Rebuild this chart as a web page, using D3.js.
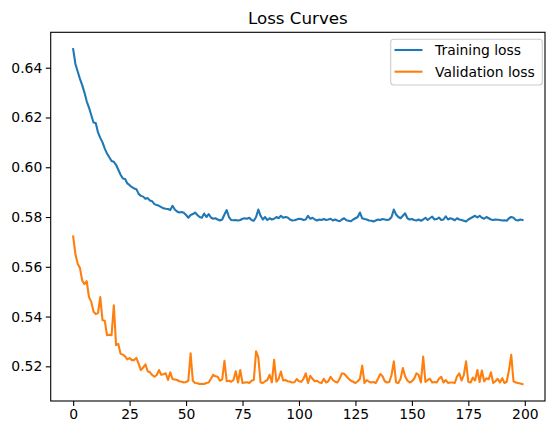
<!DOCTYPE html>
<html><head><meta charset="utf-8">
<script src="https://cdn.jsdelivr.net/npm/d3@7"></script>
<style>body{margin:0;background:#fff}svg{display:block}text{font-family:"DejaVu Sans",sans-serif}</style>
</head><body><svg id="c" width="556" height="435"></svg>
<script>
const title = "Loss Curves";
const seriesNames = ["Training loss", "Validation loss"];
const xTicks = [0, 25, 50, 75, 100, 125, 150, 175, 200];
const yTicks = [0.52, 0.54, 0.56, 0.58, 0.60, 0.62, 0.64];
const trainLoss = [
0.6475,0.6415,0.6385,0.6355,0.6330,0.6300,0.6265,0.6240,0.6210,0.6180,
0.6178,0.6140,0.6118,0.6100,0.6075,0.6055,0.6040,0.6025,0.6022,0.6010,
0.5990,0.5970,0.5955,0.5953,0.5935,0.5928,0.5920,0.5915,0.5912,0.5893,
0.5885,0.5882,0.5873,0.5876,0.5866,0.5863,0.5852,0.5848,0.5845,0.5840,
0.5835,0.5833,0.5832,0.5828,0.5845,0.5830,0.5822,0.5818,0.5820,0.5817,
0.5808,0.5797,0.5808,0.5812,0.5818,0.5808,0.5800,0.5797,0.5814,0.5800,
0.5812,0.5798,0.5793,0.5795,0.5790,0.5786,0.5790,0.5810,0.5828,0.5800,
0.5788,0.5787,0.5788,0.5786,0.5788,0.5793,0.5795,0.5793,0.5797,0.5788,
0.5785,0.5800,0.5830,0.5805,0.5790,0.5800,0.5788,0.5795,0.5790,0.5793,
0.5800,0.5795,0.5805,0.5797,0.5800,0.5798,0.5790,0.5786,0.5787,0.5790,
0.5793,0.5792,0.5788,0.5790,0.5805,0.5793,0.5797,0.5790,0.5786,0.5790,
0.5788,0.5792,0.5788,0.5790,0.5793,0.5786,0.5790,0.5786,0.5783,0.5790,
0.5795,0.5787,0.5785,0.5783,0.5790,0.5795,0.5800,0.5818,0.5795,0.5792,
0.5790,0.5786,0.5785,0.5782,0.5786,0.5790,0.5788,0.5792,0.5790,0.5788,
0.5790,0.5800,0.5830,0.5810,0.5800,0.5795,0.5805,0.5815,0.5795,0.5790,
0.5792,0.5788,0.5786,0.5790,0.5785,0.5790,0.5797,0.5788,0.5795,0.5802,
0.5790,0.5792,0.5798,0.5788,0.5790,0.5803,0.5790,0.5795,0.5792,0.5787,
0.5795,0.5790,0.5788,0.5785,0.5782,0.5790,0.5795,0.5800,0.5805,0.5798,
0.5805,0.5797,0.5793,0.5800,0.5795,0.5790,0.5788,0.5790,0.5789,0.5788,
0.5786,0.5787,0.5785,0.5795,0.5800,0.5797,0.5788,0.5786,0.5790,0.5788];
const valLoss = [
0.5722,0.5650,0.5612,0.5595,0.5545,0.5530,0.5542,0.5478,0.5460,0.5420,
0.5410,0.5415,0.5478,0.5385,0.5383,0.5325,0.5327,0.5325,0.5445,0.5285,
0.5290,0.5250,0.5247,0.5240,0.5228,0.5233,0.5225,0.5225,0.5234,0.5210,
0.5185,0.5195,0.5208,0.5180,0.5176,0.5165,0.5158,0.5165,0.5185,0.5166,
0.5168,0.5172,0.5145,0.5176,0.5149,0.5147,0.5145,0.5140,0.5138,0.5135,
0.5137,0.5142,0.5252,0.5142,0.5133,0.5132,0.5129,0.5130,0.5129,0.5133,
0.5135,0.5150,0.5166,0.5160,0.5158,0.5142,0.5148,0.5222,0.5140,0.5142,
0.5138,0.5145,0.5180,0.5135,0.5185,0.5133,0.5135,0.5136,0.5133,0.5142,
0.5145,0.5260,0.5236,0.5135,0.5133,0.5140,0.5145,0.5166,0.5135,0.5226,
0.5138,0.5150,0.5179,0.5143,0.5145,0.5140,0.5138,0.5135,0.5136,0.5149,
0.5140,0.5138,0.5150,0.5172,0.5133,0.5162,0.5150,0.5140,0.5142,0.5135,
0.5133,0.5150,0.5135,0.5140,0.5158,0.5145,0.5138,0.5135,0.5150,0.5172,
0.5170,0.5160,0.5150,0.5142,0.5138,0.5133,0.5140,0.5150,0.5203,0.5133,
0.5145,0.5138,0.5135,0.5137,0.5133,0.5150,0.5169,0.5160,0.5140,0.5135,
0.5137,0.5165,0.5220,0.5135,0.5133,0.5150,0.5193,0.5160,0.5143,0.5135,
0.5140,0.5150,0.5172,0.5165,0.5135,0.5239,0.5137,0.5145,0.5150,0.5135,
0.5137,0.5135,0.5150,0.5158,0.5135,0.5145,0.5133,0.5135,0.5135,0.5133,
0.5160,0.5172,0.5143,0.5165,0.5220,0.5137,0.5135,0.5155,0.5143,0.5185,
0.5137,0.5183,0.5140,0.5152,0.5148,0.5176,0.5133,0.5140,0.5150,0.5135,
0.5152,0.5133,0.5138,0.5185,0.5246,0.5140,0.5135,0.5133,0.5131,0.5128];
const colors = ["#1f77b4", "#ff7f0e"];

const L = 50.7, R = 545, T = 32.3, B = 401;
const svg = d3.select("#c");
const n = trainLoss.length;
const xs = d3.scaleLinear().domain([-0.05*(n-1), (n-1)*1.05]).range([L, R]);
const all = trainLoss.concat(valLoss);
const lo = d3.min(all), hi = d3.max(all), pad = (hi - lo) * 0.05;
const ys = d3.scaleLinear().domain([lo - pad, hi + pad]).range([B, T]);

const line = d3.line().x((d, i) => xs(i)).y(d => ys(d));
const g = svg.append("g");
[trainLoss, valLoss].forEach((s, k) => {
  g.append("path").datum(s).attr("d", line).attr("fill", "none")
    .attr("stroke", colors[k]).attr("stroke-width", 2.08)
    .attr("stroke-linejoin", "round").attr("stroke-linecap", "square");
});

const xAxis = svg.append("g").attr("transform", `translate(0,${B})`)
  .call(d3.axisBottom(xs).tickValues(xTicks).tickFormat(d3.format("d")).tickSizeOuter(0).tickSize(4.9).tickPadding(3.5));
const yAxis = svg.append("g").attr("transform", `translate(${L},0)`)
  .call(d3.axisLeft(ys).tickValues(yTicks).tickFormat(d3.format(".2f")).tickSizeOuter(0).tickSize(4.9).tickPadding(3.5));
[xAxis, yAxis].forEach(a => {
  a.select(".domain").remove();
  a.selectAll("line").attr("stroke", "#000").attr("stroke-width", 1.1);
  a.selectAll("text").attr("font-family", "DejaVu Sans").attr("font-size", 13.9).attr("fill", "#000");
});

svg.append("rect").attr("x", L).attr("y", T).attr("width", R - L).attr("height", B - T)
  .attr("fill", "none").attr("stroke", "#000").attr("stroke-width", 1.1);

svg.append("text").attr("x", (L + R) / 2).attr("y", 24).attr("text-anchor", "middle")
  .attr("font-size", 16.7).attr("fill", "#000").text(title);

const lg = svg.append("g");
lg.append("rect").attr("x", 390.7).attr("y", 39.3).attr("width", 151.6).attr("height", 45.7)
  .attr("rx", 3).attr("fill", "#fff").attr("fill-opacity", 0.8).attr("stroke", "#ccc").attr("stroke-width", 1.1);
seriesNames.forEach((name, k) => {
  const yy = 50 + k * 21.7;
  lg.append("line").attr("x1", 394.5).attr("x2", 422.5).attr("y1", yy).attr("y2", yy)
    .attr("stroke", colors[k]).attr("stroke-width", 2.08);
  lg.append("text").attr("x", 435).attr("y", yy).attr("dy", "0.35em")
    .attr("font-size", 13.9).attr("fill", "#000").text(name);
});
</script></body></html>
